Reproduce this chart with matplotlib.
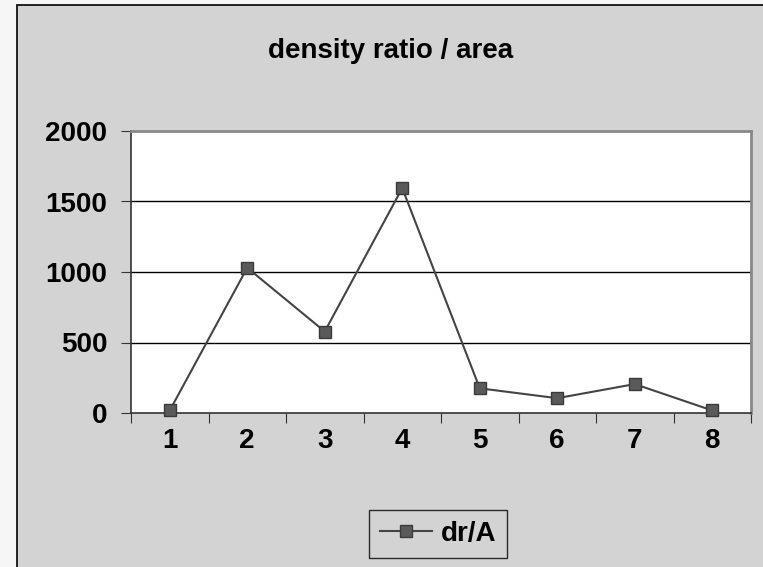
import matplotlib.pyplot as plt
from matplotlib.patches import Rectangle
from matplotlib.lines import Line2D

plt.rcParams['font.family'] = ['Liberation Sans', 'DejaVu Sans']

# data
categories = ['1', '2', '3', '4', '5', '6', '7', '8']
dr_a = [18, 1030, 578, 1595, 175, 105, 205, 18]
y_ticks = [0, 500, 1000, 1500, 2000]

fig = plt.figure(figsize=(7.63, 5.67), dpi=100)
fig.patch.set_facecolor('#f6f6f6')

# grey chart area with dark border
bg = Rectangle((17 / 763, -0.1), 1.1, 1.1 - 5 / 567,
               transform=fig.transFigure, facecolor='#d3d3d3',
               edgecolor='#111111', linewidth=1.3, zorder=-5)
fig.add_artist(bg)

ax = fig.add_axes([131 / 763, 1 - 413 / 567, 620 / 763, 282 / 567])
ax.set_facecolor('white')

x = list(range(len(categories)))
ax.plot(x, dr_a, color='#444444', linewidth=1.5, marker='s', markersize=8,
        markerfacecolor='#5a5a5a', markeredgecolor='#3a3a3a', zorder=3,
        clip_on=False)

ax.set_xlim(-0.5, len(categories) - 0.5)
ax.set_ylim(0, 2000)
ax.set_yticks(y_ticks)
ax.set_yticklabels([str(v) for v in y_ticks], fontsize=20, fontweight='bold')
ax.set_xticks([i - 0.5 for i in range(len(categories) + 1)])
ax.set_xticklabels([])
ax.set_xticks(x, minor=True)
ax.set_xticklabels(categories, minor=True, fontsize=20, fontweight='bold')
ax.tick_params(axis='x', which='minor', length=0, pad=11)
ax.tick_params(axis='x', which='major', length=7, color='#333333', direction='out')
ax.tick_params(axis='y', length=7, color='#333333', direction='out', pad=10)

for v in y_ticks[1:-1]:
    ax.axhline(v, color='black', linewidth=1.0, zorder=1)

ax.spines['left'].set_color('#333333')
ax.spines['bottom'].set_color('#333333')
ax.spines['left'].set_linewidth(1.2)
ax.spines['bottom'].set_linewidth(1.2)
ax.spines['top'].set_color('#888888')
ax.spines['right'].set_color('#888888')
ax.spines['top'].set_linewidth(2)
ax.spines['right'].set_linewidth(2)

fig.text(391 / 763, 1 - 51 / 567, 'density ratio / area', ha='center', va='center',
         fontsize=20, fontweight='bold')

handle = Line2D([], [], color='#444444', linewidth=1.5, marker='s', markersize=8,
                markerfacecolor='#5a5a5a', markeredgecolor='#3a3a3a')
leg = fig.legend([handle], ['dr/A'], loc='center', bbox_to_anchor=(438 / 763, 1 - 534 / 567),
                 prop={'size': 20, 'weight': 'bold'}, frameon=True, fancybox=False,
                 handlelength=1.9, handletextpad=0.3, borderpad=0.4)
leg.get_frame().set_edgecolor('black')
leg.get_frame().set_facecolor('#d3d3d3')
leg.get_frame().set_linewidth(1.0)

fig.savefig('out.png', dpi=100, facecolor=fig.get_facecolor())
